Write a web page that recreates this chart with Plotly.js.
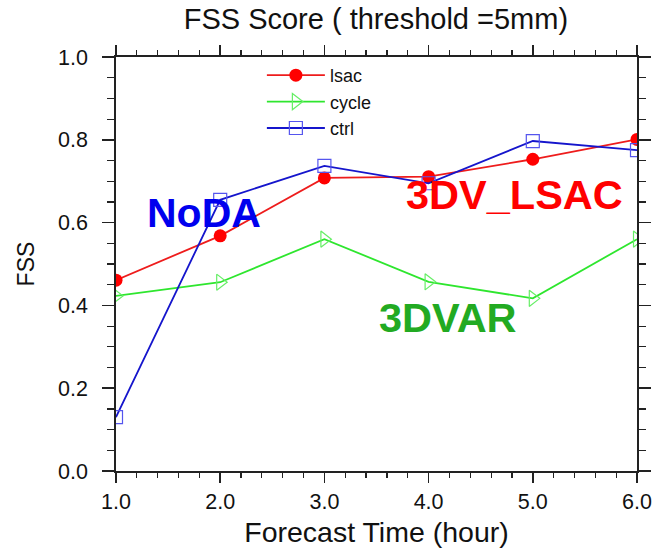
<!DOCTYPE html>
<html>
<head>
<meta charset="utf-8">
<script src="https://cdn.plot.ly/plotly-3.0.1.min.js"></script>
<style>html,body{margin:0;padding:0;background:#fff;}#chart{width:656px;height:549px;}</style>
</head>
<body>
<div id="chart"></div>
<script>
const hours = [1, 2, 3, 4, 5, 6];
const lsac = [0.461, 0.568, 0.708, 0.711, 0.753, 0.801];
const cycle = [0.423, 0.456, 0.560, 0.457, 0.417, 0.560];
const ctrl = [0.130, 0.655, 0.737, 0.695, 0.797, 0.775];
const xTickVals = [1, 2, 3, 4, 5, 6];
const xTickText = ['1.0', '2.0', '3.0', '4.0', '5.0', '6.0'];
const yTickVals = [0.0, 0.2, 0.4, 0.6, 0.8, 1.0];
const yTickText = ['0.0', '0.2', '0.4', '0.6', '0.8', '1.0'];

const FONT = 'Liberation Sans, Arial, Helvetica, sans-serif';

const traces = [
  {x: hours, y: lsac, name: 'lsac', mode: 'lines+markers',
   line: {color: '#ee1c1c', width: 1.8},
   marker: {symbol: 'circle', size: 13, color: '#ff0000'}},
  {x: hours, y: cycle, name: 'cycle', mode: 'lines+markers',
   line: {color: '#2ee62e', width: 1.8},
   marker: {symbol: 'triangle-right-open', size: 14, color: '#66ee66', line: {width: 1.2}}},
  {x: hours, y: ctrl, name: 'ctrl', mode: 'lines+markers',
   line: {color: '#1515cc', width: 1.8},
   marker: {symbol: 'square-open', size: 13, color: '#5555ee', line: {width: 1.2}}}
];

const axisCommon = {
  showgrid: false, zeroline: false, showline: true, linecolor: '#222', linewidth: 1.8,
  mirror: 'ticks', ticks: 'outside', tickwidth: 1.5, tickcolor: '#222',
  tickfont: {family: FONT, size: 21.5, color: '#111'}
};

const layout = {
  width: 656, height: 549,
  margin: {l: 116, r: 19, t: 57, b: 78},
  paper_bgcolor: '#fff', plot_bgcolor: '#fff',
  title: {text: 'FSS Score ( threshold =5mm)', font: {family: FONT, size: 29, color: '#111'},
          x: 0.573, xanchor: 'center', y: 0.966, yanchor: 'middle'},
  xaxis: Object.assign({}, axisCommon, {
    range: [1, 6], tickvals: xTickVals, ticktext: xTickText, ticklen: 10,
    minor: {dtick: 0.2, tick0: 1, ticks: 'outside', ticklen: 5, tickwidth: 1.2, tickcolor: '#222'},
    title: {text: 'Forecast Time (hour)', font: {family: FONT, size: 28.5, color: '#111'}, standoff: 9}
  }),
  yaxis: Object.assign({}, axisCommon, {
    range: [0, 1], tickvals: yTickVals, ticktext: yTickText, ticklen: 12,
    ticklabelstandoff: 10,
    minor: {dtick: 0.05, tick0: 0, ticks: 'outside', ticklen: 7, tickwidth: 1.2, tickcolor: '#222'},
    title: {text: 'FSS', font: {family: FONT, size: 23, color: '#111'}, standoff: 17}
  }),
  showlegend: true,
  legend: {x: 0.28, y: 1.0, xanchor: 'left', yanchor: 'top', bgcolor: 'rgba(0,0,0,0)',
           font: {family: FONT, size: 18, color: '#111'}, itemwidth: 58, tracegroupgap: 0},
  annotations: [
    {text: '<b>NoDA</b>', x: 1.84, y: 0.622, xref: 'x', yref: 'y', showarrow: false,
     font: {family: FONT, size: 41, color: '#0000ee'}},
    {text: '<b>3DV_LSAC</b>', x: 4.82, y: 0.669, xref: 'x', yref: 'y', showarrow: false,
     font: {family: FONT, size: 41.5, color: '#ff0000'}},
    {text: '<b>3DVAR</b>', x: 4.19, y: 0.37, xref: 'x', yref: 'y', showarrow: false,
     font: {family: FONT, size: 41.5, color: '#22aa22'}}
  ]
};

Plotly.newPlot('chart', traces, layout, {displayModeBar: false, staticPlot: true});
</script>
</body>
</html>
